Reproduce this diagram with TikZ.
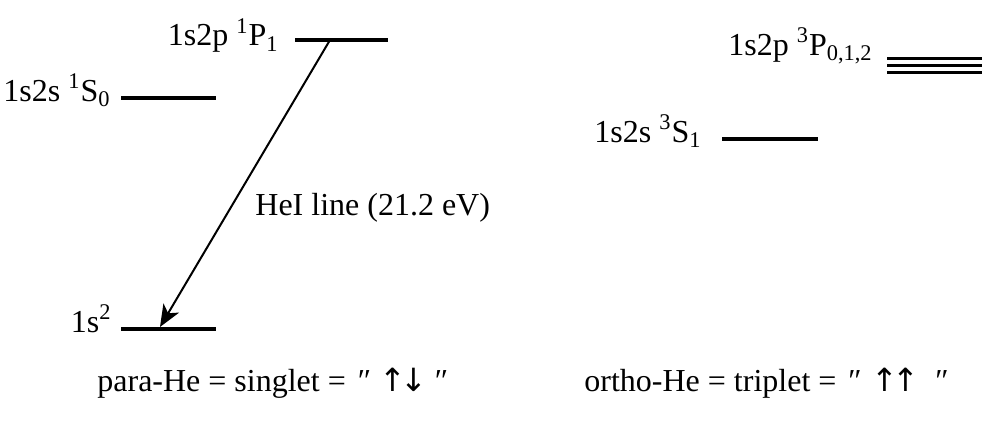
\documentclass[tikz,border=0pt]{standalone}
\usepackage{fontspec}
\setmainfont{Liberation Serif}
\newfontfamily\arrowfont{DejaVu Sans}
\usetikzlibrary{arrows.meta}

\begin{document}
\begin{tikzpicture}[x=0.5pt,y=-0.5pt,>={Stealth[length=11pt,width=9pt,inset=3pt]},
  font=\fontsize{16}{19}\selectfont,inner sep=0pt]
  \useasboundingbox (0,0) rectangle (982,423);
  \tikzset{level/.style={line width=1.6pt},
    spin/.style={anchor=base west}}
  % singlet levels
  \coordinate (P1) at (295,40);
  \coordinate (S0) at (121,98);
  \coordinate (G) at (121,329);
  \draw[level] (P1)--++(93,0);
  \draw[level] (S0)--++(95,0);
  \draw[level] (G)--++(95,0);
  \node[anchor=base east] (lP1) at (279,46) {1s2p \textsuperscript{1}P\textsubscript{1}};
  \node[anchor=base east] (lS0) at (111,101) {1s2s \textsuperscript{1}S\textsubscript{0}};
  \node[anchor=base east] (lG) at (112,332) {1s\textsuperscript{2}};
  % triplet levels
  \coordinate (S1) at (722,139);
  \coordinate (P3) at (887,65.3);
  \draw[level] (S1)--++(96,0);
  \foreach \dy in {-6.8,0,6.8}
    \draw[level] ([yshift=-\dy*0.5pt]P3)--++(95,0);
  \node[anchor=base east] (lS1) at (702,142) {1s2s \textsuperscript{3}S\textsubscript{1}};
  \node[anchor=base east] (lP3) at (873,55) {1s2p \textsuperscript{3}P\textsubscript{0,1,2}};
  % transition
  \coordinate (A) at (330,40);
  \coordinate (B) at (160,327);
  \draw[->,line width=1pt] (A)--(B);
  \node[anchor=base west] (hei) at (255,215) {HeI line (21.2 eV)};
  % spin states
  \node[spin] (para) at (97,391)
    {para-He = singlet =\hspace{6pt}″\hspace{4pt}{\arrowfont ↑\kern-3pt↓}\hspace{4pt}″};
  \node[spin] (ortho) at (584,391)
    {ortho-He = triplet =\hspace{6pt}″\hspace{5pt}{\arrowfont ↑\kern-3pt↑}\hspace{8pt}″};
\end{tikzpicture}
\end{document}
